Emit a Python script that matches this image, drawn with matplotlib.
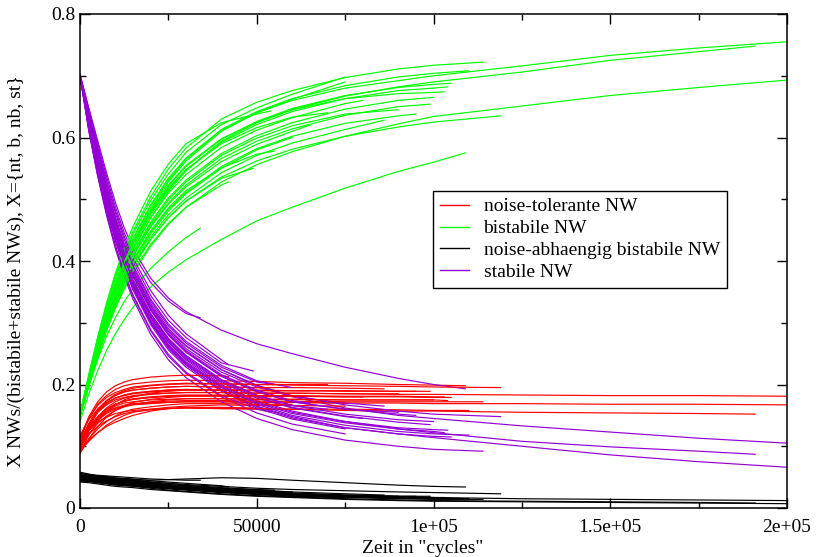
import matplotlib
matplotlib.use("Agg")
import matplotlib.pyplot as plt
from matplotlib.lines import Line2D
from matplotlib.ticker import FixedLocator, FixedFormatter, MultipleLocator

# ---------------- data ----------------
grid_t = [0, 2500, 5000, 7500, 10000, 12500, 15000, 20000, 25000, 30000, 40000,
          50000, 60000, 75000, 90000, 100000, 125000, 150000, 175000, 200000]

run_end = [200000, 200000, 191000, 34000, 109000, 75000, 75000, 86000, 95000, 99000,
           105000, 104000, 110000, 114000, 119000, 54000, 55000, 49000, 42000,
           80000, 65000, 100000, 90000, 60000, 70000, 103000]

green_runs = [
    [0.150,0.208,0.262,0.312,0.356,0.395,0.428,0.484,0.528,0.562,0.610,0.640,0.660,0.680,0.692,0.700,0.716,0.733,0.745,0.755],
    [0.148,0.198,0.245,0.287,0.323,0.354,0.380,0.424,0.459,0.487,0.528,0.556,0.577,0.602,0.622,0.634,0.651,0.668,0.681,0.693],
    [0.150,0.206,0.258,0.306,0.348,0.385,0.417,0.470,0.513,0.546,0.594,0.624,0.645,0.667,0.682,0.690,0.706,0.725,0.739,0.748],
    [0.150,0.198,0.240,0.278,0.308,0.334,0.355,0.388,0.415,0.438,0.453],
    [0.140,0.185,0.222,0.255,0.282,0.305,0.325,0.358,0.382,0.402,0.435,0.465,0.487,0.518,0.545,0.560,0.575],
    [0.152,0.214,0.272,0.325,0.372,0.410,0.443,0.498,0.541,0.576,0.621,0.648,0.670,0.698],
    [0.150,0.210,0.266,0.317,0.362,0.401,0.434,0.488,0.531,0.565,0.612,0.640,0.662,0.690],
    [0.150,0.200,0.248,0.292,0.331,0.365,0.393,0.439,0.475,0.502,0.543,0.571,0.591,0.613,0.628],
    [0.150,0.202,0.251,0.296,0.336,0.371,0.400,0.447,0.484,0.511,0.553,0.582,0.602,0.623,0.635,0.638],
    [0.150,0.204,0.255,0.301,0.342,0.378,0.408,0.457,0.494,0.523,0.566,0.594,0.614,0.636,0.650,0.654],
    [0.151,0.209,0.264,0.314,0.358,0.396,0.428,0.480,0.521,0.553,0.597,0.626,0.647,0.668,0.681,0.686,0.688],
    [0.149,0.207,0.261,0.310,0.354,0.391,0.423,0.475,0.516,0.548,0.592,0.621,0.642,0.663,0.676,0.680,0.682],
    [0.152,0.212,0.268,0.320,0.366,0.405,0.437,0.491,0.534,0.567,0.613,0.642,0.663,0.684,0.698,0.704,0.708],
    [0.153,0.216,0.275,0.329,0.376,0.415,0.448,0.504,0.549,0.583,0.630,0.657,0.676,0.697,0.711,0.717,0.722],
    [0.149,0.198,0.246,0.290,0.329,0.362,0.390,0.435,0.470,0.497,0.536,0.562,0.581,0.602,0.617,0.625,0.635],
    [0.152,0.216,0.277,0.332,0.380,0.421,0.456,0.513,0.557,0.590,0.624,0.638,0.643],
    [0.150,0.202,0.252,0.298,0.338,0.373,0.402,0.449,0.486,0.514,0.551,0.573,0.578],
    [0.150,0.200,0.248,0.292,0.330,0.363,0.391,0.435,0.470,0.497,0.534,0.550],
    [0.149,0.197,0.244,0.287,0.325,0.357,0.384,0.427,0.461,0.487,0.523,0.528],
    [0.151,0.207,0.260,0.309,0.352,0.389,0.420,0.470,0.510,0.540,0.584,0.612,0.632,0.655,0.660],
    [0.150,0.203,0.254,0.301,0.342,0.377,0.407,0.455,0.492,0.520,0.561,0.589,0.610,0.620],
    [0.150,0.205,0.257,0.305,0.347,0.383,0.413,0.463,0.502,0.531,0.574,0.603,0.624,0.646,0.660,0.665],
    [0.150,0.204,0.255,0.303,0.345,0.381,0.411,0.460,0.499,0.528,0.571,0.599,0.619,0.638,0.645],
    [0.149,0.200,0.249,0.294,0.333,0.368,0.397,0.444,0.481,0.509,0.550,0.580,0.600],
    [0.151,0.209,0.263,0.313,0.357,0.395,0.427,0.478,0.518,0.548,0.590,0.616,0.633,0.640],
    [0.150,0.210,0.265,0.315,0.360,0.398,0.430,0.482,0.523,0.555,0.598,0.625,0.645,0.663,0.671,0.673,0.674],
]

purple_runs = [
    [0.700,0.615,0.545,0.485,0.433,0.390,0.355,0.300,0.260,0.232,0.192,0.165,0.148,0.130,0.120,0.114,0.100,0.086,0.075,0.066],
    [0.702,0.635,0.572,0.515,0.464,0.420,0.384,0.328,0.288,0.262,0.224,0.198,0.180,0.162,0.150,0.145,0.133,0.123,0.113,0.105],
    [0.700,0.620,0.552,0.492,0.441,0.398,0.363,0.308,0.268,0.240,0.200,0.174,0.157,0.140,0.128,0.122,0.108,0.099,0.092,0.087],
    [0.700,0.645,0.590,0.537,0.488,0.446,0.412,0.365,0.335,0.315,0.308],
    [0.703,0.648,0.595,0.543,0.495,0.454,0.420,0.372,0.340,0.318,0.288,0.266,0.250,0.228,0.210,0.200,0.193],
    [0.700,0.612,0.540,0.478,0.425,0.380,0.343,0.287,0.246,0.218,0.180,0.154,0.136,0.120],
    [0.700,0.616,0.546,0.486,0.434,0.390,0.353,0.297,0.256,0.228,0.189,0.162,0.144,0.128],
    [0.700,0.632,0.568,0.510,0.460,0.417,0.381,0.326,0.286,0.258,0.220,0.196,0.181,0.170,0.165],
    [0.700,0.628,0.563,0.505,0.454,0.411,0.375,0.320,0.280,0.252,0.213,0.188,0.172,0.160,0.152,0.150],
    [0.700,0.624,0.557,0.498,0.447,0.403,0.367,0.312,0.272,0.244,0.205,0.180,0.163,0.149,0.139,0.135],
    [0.700,0.617,0.548,0.488,0.436,0.392,0.356,0.300,0.259,0.231,0.191,0.164,0.146,0.130,0.120,0.116,0.115],
    [0.700,0.620,0.552,0.493,0.441,0.397,0.361,0.305,0.265,0.237,0.198,0.172,0.155,0.140,0.130,0.127,0.126],
    [0.700,0.618,0.549,0.489,0.437,0.393,0.357,0.302,0.262,0.234,0.195,0.168,0.150,0.134,0.124,0.120,0.118],
    [0.700,0.610,0.537,0.474,0.420,0.375,0.338,0.281,0.240,0.211,0.172,0.145,0.127,0.110,0.100,0.095,0.092],
    [0.700,0.634,0.572,0.515,0.465,0.422,0.386,0.331,0.291,0.263,0.224,0.199,0.182,0.167,0.157,0.152,0.148],
    [0.700,0.612,0.540,0.478,0.425,0.381,0.345,0.289,0.249,0.220,0.182,0.160,0.155],
    [0.700,0.636,0.575,0.519,0.469,0.426,0.390,0.335,0.295,0.267,0.228,0.204,0.200],
    [0.700,0.640,0.582,0.527,0.478,0.435,0.399,0.344,0.304,0.276,0.235,0.222],
    [0.700,0.642,0.585,0.531,0.482,0.440,0.405,0.352,0.312,0.282,0.240,0.232],
    [0.700,0.622,0.555,0.496,0.445,0.401,0.365,0.310,0.270,0.242,0.203,0.178,0.162,0.148,0.145],
    [0.700,0.630,0.566,0.508,0.457,0.414,0.378,0.323,0.283,0.255,0.216,0.191,0.174,0.170],
    [0.700,0.626,0.560,0.501,0.450,0.406,0.370,0.315,0.275,0.247,0.208,0.183,0.166,0.152,0.143,0.140],
    [0.700,0.629,0.564,0.506,0.455,0.412,0.376,0.321,0.281,0.253,0.214,0.189,0.172,0.160,0.155],
    [0.700,0.638,0.578,0.522,0.472,0.429,0.393,0.338,0.298,0.270,0.231,0.206,0.195],
    [0.700,0.625,0.559,0.500,0.449,0.405,0.369,0.314,0.274,0.246,0.207,0.182,0.166,0.160],
    [0.700,0.619,0.550,0.490,0.439,0.395,0.359,0.303,0.263,0.235,0.196,0.170,0.153,0.138,0.128,0.124,0.122],
]

red_runs = [
    [0.100,0.125,0.142,0.153,0.160,0.164,0.167,0.169,0.171,0.172,0.172,0.171,0.171,0.170,0.170,0.169,0.169,0.168,0.168,0.167],
    [0.095,0.126,0.148,0.162,0.172,0.178,0.181,0.184,0.186,0.187,0.187,0.186,0.186,0.185,0.184,0.184,0.183,0.182,0.182,0.181],
    [0.105,0.120,0.132,0.141,0.148,0.153,0.156,0.159,0.161,0.162,0.161,0.160,0.160,0.158,0.157,0.157,0.155,0.154,0.153,0.152],
    [0.098,0.131,0.155,0.169,0.178,0.183,0.186,0.189,0.191,0.192,0.191],
    [0.110,0.145,0.168,0.182,0.192,0.198,0.201,0.204,0.206,0.207,0.206,0.205,0.203,0.202,0.200,0.199,0.198],
    [0.092,0.108,0.122,0.134,0.143,0.150,0.155,0.160,0.163,0.165,0.167,0.166,0.166,0.165],
    [0.112,0.133,0.147,0.156,0.162,0.166,0.168,0.170,0.171,0.172,0.172,0.171,0.171,0.170],
    [0.104,0.136,0.159,0.173,0.182,0.188,0.191,0.194,0.196,0.197,0.196,0.195,0.195,0.194,0.193],
    [0.090,0.118,0.140,0.156,0.167,0.175,0.180,0.186,0.189,0.191,0.191,0.190,0.190,0.189,0.189,0.189],
    [0.118,0.143,0.160,0.171,0.178,0.182,0.185,0.188,0.190,0.191,0.191,0.191,0.190,0.190,0.189,0.189],
    [0.102,0.129,0.148,0.160,0.168,0.173,0.176,0.179,0.181,0.182,0.182,0.181,0.181,0.180,0.180,0.179,0.179],
    [0.096,0.120,0.137,0.149,0.158,0.164,0.168,0.172,0.175,0.177,0.177,0.176,0.176,0.175,0.175,0.175,0.174],
    [0.108,0.126,0.139,0.147,0.153,0.156,0.158,0.160,0.161,0.162,0.161,0.161,0.160,0.160,0.159,0.158,0.158],
    [0.100,0.125,0.143,0.155,0.162,0.166,0.169,0.171,0.173,0.174,0.174,0.173,0.173,0.172,0.172,0.172,0.172],
    [0.115,0.145,0.166,0.179,0.187,0.192,0.196,0.199,0.201,0.202,0.201,0.200,0.199,0.198,0.197,0.196,0.195],
    [0.088,0.112,0.132,0.147,0.158,0.166,0.171,0.176,0.179,0.181,0.181,0.180,0.180],
    [0.106,0.137,0.160,0.174,0.183,0.188,0.191,0.194,0.196,0.197,0.196,0.195,0.195],
    [0.094,0.110,0.122,0.132,0.139,0.145,0.150,0.157,0.161,0.163,0.163,0.162],
    [0.112,0.148,0.172,0.188,0.198,0.204,0.208,0.212,0.214,0.215,0.214,0.213],
    [0.099,0.127,0.147,0.160,0.168,0.173,0.176,0.179,0.181,0.182,0.182,0.181,0.181,0.180,0.180],
    [0.103,0.134,0.156,0.170,0.178,0.183,0.186,0.189,0.191,0.192,0.191,0.190,0.190,0.190],
    [0.097,0.125,0.145,0.157,0.165,0.170,0.172,0.175,0.176,0.177,0.177,0.176,0.176,0.175,0.175,0.175],
    [0.109,0.136,0.155,0.167,0.175,0.179,0.182,0.185,0.186,0.187,0.187,0.186,0.186,0.185,0.185],
    [0.093,0.112,0.128,0.140,0.149,0.156,0.160,0.164,0.167,0.169,0.169,0.168,0.168],
    [0.101,0.135,0.159,0.174,0.184,0.190,0.194,0.198,0.200,0.201,0.201,0.200,0.200,0.200],
    [0.099,0.127,0.147,0.160,0.168,0.173,0.177,0.180,0.182,0.183,0.183,0.182,0.182,0.181,0.181,0.180,0.180],
]

black_runs = [
    [0.046,0.045,0.044,0.042,0.041,0.040,0.039,0.036,0.034,0.032,0.028,0.025,0.023,0.020,0.018,0.017,0.015,0.014,0.013,0.012],
    [0.042,0.041,0.039,0.037,0.035,0.034,0.033,0.030,0.028,0.026,0.022,0.019,0.017,0.014,0.012,0.011,0.010,0.009,0.008,0.007],
    [0.044,0.043,0.041,0.039,0.037,0.036,0.035,0.032,0.029,0.027,0.023,0.020,0.018,0.015,0.013,0.012,0.011,0.010,0.009,0.008],
    [0.055,0.054,0.053,0.052,0.051,0.050,0.049,0.047,0.046,0.045,0.045],
    [0.058,0.055,0.052,0.050,0.048,0.047,0.046,0.045,0.046,0.047,0.049,0.048,0.045,0.041,0.037,0.035,0.034],
    [0.050,0.048,0.046,0.044,0.042,0.041,0.039,0.036,0.033,0.030,0.026,0.023,0.020,0.017],
    [0.047,0.046,0.044,0.042,0.041,0.039,0.038,0.035,0.032,0.030,0.026,0.022,0.020,0.017],
    [0.052,0.051,0.049,0.048,0.046,0.045,0.044,0.041,0.038,0.036,0.032,0.029,0.026,0.023,0.021],
    [0.048,0.047,0.045,0.044,0.042,0.041,0.040,0.037,0.035,0.033,0.029,0.026,0.024,0.021,0.019,0.019],
    [0.051,0.050,0.048,0.046,0.045,0.044,0.042,0.039,0.037,0.034,0.030,0.027,0.024,0.021,0.019,0.019],
    [0.045,0.044,0.042,0.041,0.039,0.038,0.037,0.034,0.032,0.030,0.026,0.023,0.020,0.018,0.016,0.015,0.015],
    [0.049,0.048,0.046,0.044,0.043,0.041,0.040,0.037,0.035,0.032,0.028,0.025,0.022,0.019,0.017,0.016,0.016],
    [0.046,0.045,0.043,0.042,0.040,0.039,0.038,0.035,0.033,0.031,0.027,0.024,0.021,0.018,0.016,0.016,0.015],
    [0.044,0.043,0.041,0.040,0.038,0.037,0.036,0.033,0.031,0.029,0.025,0.022,0.019,0.017,0.015,0.014,0.014],
    [0.053,0.052,0.050,0.049,0.047,0.046,0.045,0.042,0.040,0.038,0.035,0.032,0.030,0.028,0.026,0.025,0.023],
    [0.047,0.046,0.044,0.043,0.041,0.040,0.039,0.036,0.034,0.031,0.027,0.024,0.023],
    [0.054,0.053,0.051,0.049,0.048,0.046,0.045,0.042,0.040,0.037,0.033,0.030,0.029],
    [0.050,0.049,0.047,0.045,0.044,0.043,0.041,0.038,0.036,0.034,0.030,0.028],
    [0.056,0.054,0.052,0.051,0.049,0.048,0.047,0.044,0.042,0.040,0.036,0.034],
    [0.048,0.047,0.045,0.043,0.042,0.040,0.039,0.036,0.034,0.031,0.027,0.024,0.022,0.019,0.019],
    [0.051,0.050,0.048,0.046,0.045,0.043,0.042,0.039,0.036,0.034,0.030,0.027,0.024,0.022],
    [0.047,0.046,0.044,0.043,0.041,0.040,0.039,0.036,0.033,0.031,0.027,0.024,0.022,0.019,0.017,0.017],
    [0.049,0.048,0.046,0.045,0.043,0.042,0.040,0.037,0.035,0.033,0.029,0.026,0.023,0.020,0.019],
    [0.052,0.051,0.049,0.047,0.046,0.044,0.043,0.040,0.037,0.035,0.031,0.028,0.026],
    [0.045,0.044,0.042,0.041,0.039,0.038,0.037,0.034,0.032,0.030,0.026,0.023,0.021,0.020],
    [0.048,0.047,0.045,0.043,0.042,0.041,0.040,0.037,0.034,0.032,0.028,0.025,0.022,0.019,0.018,0.017,0.017],
]

series_labels = ["noise-tolerante NW", "bistabile NW", "noise-abhaengig bistabile NW", "stabile NW"]
series_colors = ["#ff0000", "#00ff00", "#000000", "#9400d3"]

xtick_values = [0, 50000, 100000, 150000, 200000]
xtick_labels = ["0", "50000", "1e+05", "1.5e+05", "2e+05"]
ytick_values = [0, 0.2, 0.4, 0.6, 0.8]
ytick_labels = ["0", "0.2", "0.4", "0.6", "0.8"]

x_label = 'Zeit in "cycles"'
y_label = "X NWs/(bistabile+stabile NWs), X={nt, b, nb, st}"

# ---------------- drawing ----------------
plt.rcParams["font.family"] = ["Liberation Serif", "DejaVu Serif"]

fig = plt.figure(figsize=(8.30, 5.57), dpi=100)
ax = fig.add_axes([80/830, 1-508/557, 707/830, 494/557])

lw = 0.85
series_data = [red_runs, green_runs, black_runs, purple_runs]
for i, end in enumerate(run_end):
    times = [t for t in grid_t if t < end] + [end]
    for data, col in zip(series_data, series_colors):
        if i >= len(data):
            continue
        vals = data[i]
        n = min(len(times), len(vals))
        ax.plot(times[:n], vals[:n], color=col, lw=lw, solid_joinstyle="round")

ax.set_xlim(0, 200000)
ax.set_ylim(0, 0.8)
ax.xaxis.set_major_locator(FixedLocator(xtick_values))
ax.xaxis.set_major_formatter(FixedFormatter(xtick_labels))
ax.yaxis.set_major_locator(FixedLocator(ytick_values))
ax.yaxis.set_major_formatter(FixedFormatter(ytick_labels))
ax.xaxis.set_minor_locator(MultipleLocator(25000))
ax.yaxis.set_minor_locator(MultipleLocator(0.1))
ax.tick_params(which="both", direction="in", top=True, right=True, width=1.0, labelsize=14)
ax.tick_params(which="major", length=7.5)
ax.tick_params(which="minor", length=4.5)
ax.tick_params(axis="x", pad=8)
for sp in ax.spines.values():
    sp.set_linewidth(1.1)

ax.set_xlabel(x_label, fontsize=14)
ax.set_ylabel(y_label, fontsize=14)
ax.xaxis.set_label_coords(0.484, -0.064)
ax.yaxis.set_label_coords(-0.078, 0.48)

handles = [Line2D([0], [0], color=c, lw=1.0) for c in series_colors]
leg = ax.legend(handles, series_labels, loc="upper left",
                bbox_to_anchor=((433-80)/707, (508-191)/494),
                fontsize=14, frameon=True, fancybox=False, framealpha=1,
                edgecolor="black", handlelength=1.5, handletextpad=0.75,
                labelspacing=0.22, borderpad=0.35, borderaxespad=0)
leg.get_frame().set_linewidth(1.0)

fig.savefig("out.png", dpi=100)
